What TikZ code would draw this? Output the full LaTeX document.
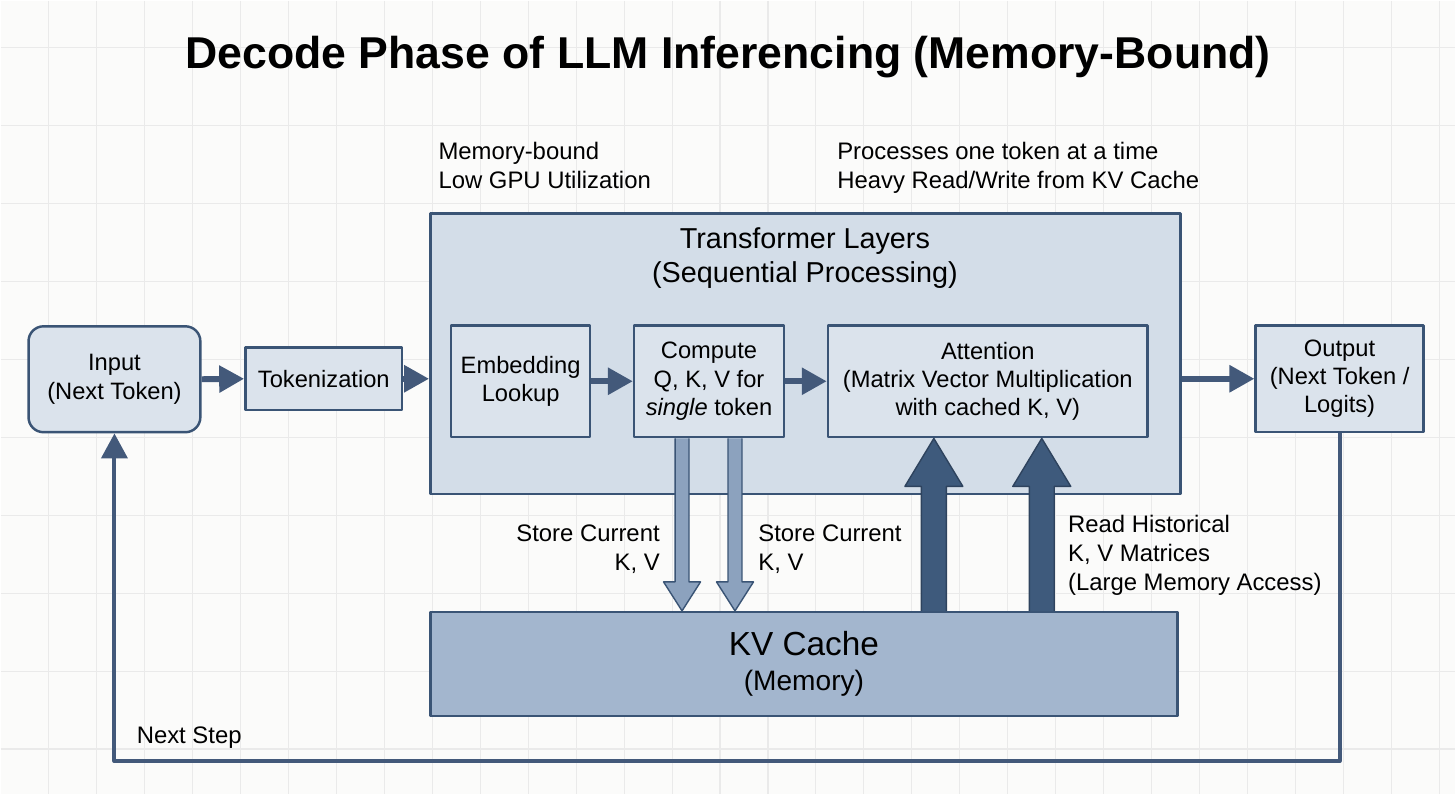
\documentclass[tikz,border=0pt]{standalone}
\usepackage{fontspec}
\setmainfont{Liberation Sans}
\usetikzlibrary{arrows.meta,calc}
\definecolor{edge}{RGB}{58,84,117}
\definecolor{boxfill}{RGB}{219,227,236}
\definecolor{layerfill}{RGB}{211,221,232}
\definecolor{cachefill}{RGB}{163,182,206}
\definecolor{storefill}{RGB}{140,162,190}
\definecolor{readfill}{RGB}{62,90,124}
\definecolor{flowcol}{RGB}{67,89,122}
\definecolor{paper}{RGB}{251,251,250}
\definecolor{gridcol}{RGB}{234,234,234}
\begin{document}
\begin{tikzpicture}[x=0.02cm,y=-0.02cm,line join=round,
		txt/.style={inner sep=0pt,font=\fontsize{13.5}{16}\selectfont},
		box/.style={txt,draw=edge,line width=1.4pt,fill=boxfill,align=center},
		note/.style={txt,align=left,font=\fontsize{13.6}{16.5}\selectfont},
		flow/.style={draw=flowcol,line width=3.4pt,-{Triangle[length=0.5cm,width=0.52cm]}}]
	\def\storearrow(#1)(#2){\draw[edge,line width=0.8pt,fill=storefill] let \p1=(#1),\p2=(#2) in (\x1-0.14cm,\y1) -- (\x1-0.14cm,\y2+0.58cm) -- (\x1-0.37cm,\y2+0.58cm) -- (\x1,\y2) -- (\x1+0.37cm,\y2+0.58cm) -- (\x1+0.14cm,\y2+0.58cm) -- (\x1+0.14cm,\y1);}
	\def\readarrow(#1)(#2){\draw[edge!80!black,line width=0.8pt,fill=readfill] let \p1=(#1),\p2=(#2) in (\x1-0.25cm,\y1) -- (\x1-0.25cm,\y2-0.96cm) -- (\x1-0.58cm,\y2-0.96cm) -- (\x1,\y2) -- (\x1+0.58cm,\y2-0.96cm) -- (\x1+0.25cm,\y2-0.96cm) -- (\x1+0.25cm,\y1);}
	% paper and grid
	\fill[paper] (0,0) rectangle (1456,794);
	\foreach \gx in {48,96,...,1440} \draw[gridcol,line width=0.6pt] (\gx,0)--(\gx,794);
	\foreach \gy in {47,125,...,794} \draw[gridcol,line width=0.6pt] (0,\gy)--(1456,\gy);
	\useasboundingbox (0,0) rectangle (1456,794);
	% texts on top
	\node[anchor=base,inner sep=0pt,font=\bfseries\fontsize{25.4}{30}\selectfont] (title) at (728,68) {Decode Phase of LLM Inferencing (Memory-Bound)};
	\node[note,anchor=north west] (bound) at (438,141) {Memory-bound\\Low GPU Utilization};
	\node[note,anchor=north west] (proc) at (837,141) {Processes one token at a time\\Heavy Read/Write from KV Cache};
	% boxes
	\node[box,fill=layerfill,minimum width=15.02cm,minimum height=5.62cm] (layers) at (805.5,353.5) {};
	\node[txt,align=center,anchor=north,font=\fontsize{16.4}{19.3}\selectfont] (ltitle) at (805,227) {Transformer Layers\\(Sequential Processing)};
	\node[box,rounded corners=0.3cm,minimum width=3.44cm,minimum height=2.12cm] (in) at (114,379) {Input\\(Next Token)};
	\node[box,minimum width=3.14cm,minimum height=1.26cm] (tok) at (323.5,378.5) {Tokenization};
	\node[box,minimum width=2.78cm,minimum height=2.24cm] (emb) at (520.5,381) {Embedding\\Lookup};
	\node[box,minimum width=3cm,minimum height=2.24cm] (comp) at (709,381) {Compute\\Q, K, V for\\\textit{single} token};
	\node[box,minimum width=6.4cm,minimum height=2.24cm] (att) at (988,381) {Attention\\(Matrix Vector Multiplication\\with cached K, V)};
	\node[box,minimum width=3.36cm,minimum height=2.14cm] (out) at (1340,378.5) {Output\\(Next Token /\\Logits)};
	\node[box,fill=cachefill,minimum width=14.96cm,minimum height=2.08cm,font=\fontsize{19}{20}\selectfont] (cache) at (804,664) {KV Cache\\{\fontsize{16}{20}\selectfont(Memory)}};
	% flow arrows
	\draw[flow] (in.east)--(tok.west);
	\draw[flow] (tok.east)--(tok.east -| layers.west);
	\draw[flow] (emb.east)--(comp.west);
	\draw[flow] (comp.east)--(att.west);
	\draw[flow] (out.west -| layers.east)--(out.west);
	\draw[flow,line width=2.3pt] (out.south)--++(0,328) -| (in.south);
	\node[note,anchor=base west] (next) at (136,743) {Next Step};
	% cache traffic
	\coordinate (s1) at ($(comp.south)+(-27,0)$);
	\coordinate (s2) at ($(comp.south)+(26,0)$);
	\coordinate (r1) at ($(att.south)+(-54,0)$);
	\coordinate (r2) at ($(att.south)+(54,0)$);
	\storearrow(s1)(s1 |- cache.north)
	\storearrow(s2)(s2 |- cache.north)
	\readarrow(r1 |- cache.north)(r1)
	\readarrow(r2 |- cache.north)(r2)
	\node[note,align=right,anchor=north east] (storeA) at (660,524) {Store Current\\K, V};
	\node[note,anchor=north west] (storeB) at (758,524) {Store Current\\K, V};
	\node[note,anchor=north west] (readlbl) at (1068,515) {Read Historical\\K, V Matrices\\(Large Memory Access)};
\end{tikzpicture}
\end{document}
